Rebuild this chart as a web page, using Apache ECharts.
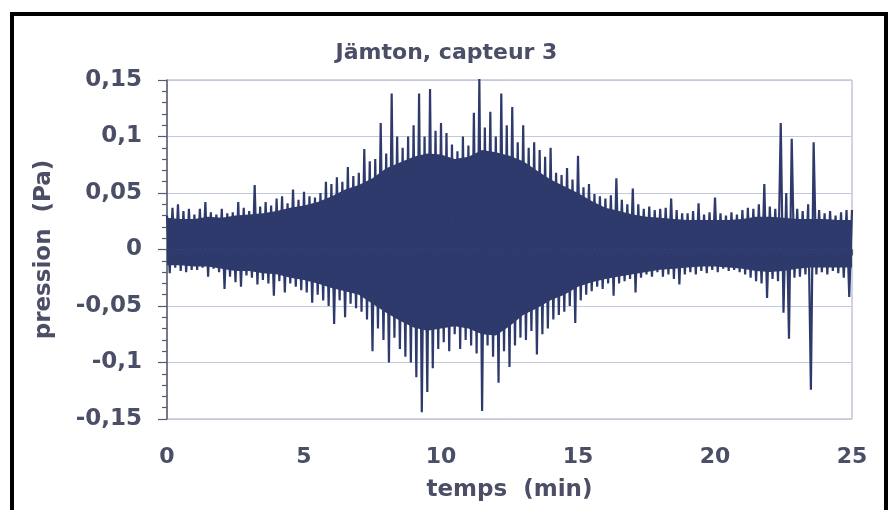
<!DOCTYPE html>
<html>
<head>
<meta charset="utf-8">
<script src="https://cdn.jsdelivr.net/npm/echarts@6/dist/echarts.min.js"></script>
<style>
html,body{margin:0;padding:0;background:#fff;}
#c{width:893px;height:510px;}
</style>
</head>
<body>
<div id="c"></div>
<script>
// Upper peaks (Pa), sampled every 0.2 min starting at t = 0
const upper = [
  .030, .037, .040, .034, .036,
  .031, .036, .042, .033, .031,
  .036, .032, .033, .042, .037,
  .034, .057, .038, .042, .039,
  .045, .047, .041, .053, .044,
  .051, .047, .046, .050, .060,
  .058, .064, .060, .073, .065,
  .068, .089, .078, .080, .112,
  .085, .138, .100, .090, .100,
  .110, .138, .100, .142, .105,
  .112, .103, .093, .087, .100,
  .092, .121, .151, .108, .122,
  .100, .138, .110, .126, .095,
  .110, .090, .095, .088, .082,
  .090, .068, .066, .072, .062,
  .083, .055, .058, .049, .047,
  .045, .048, .063, .044, .040,
  .054, .040, .036, .038, .035,
  .036, .037, .045, .035, .032,
  .032, .034, .041, .031, .033,
  .046, .032, .030, .033, .031,
  .035, .037, .036, .040, .058,
  .038, .036, .112, .050, .098,
  .036, .034, .040, .095, .035,
  .032, .034, .030, .033, .035,
  .035
];
// Lower peaks (Pa), sampled every 0.2 min starting at t = 0.1
const lower = [
  -.021, -.016, -.019, -.020, -.018,
  -.018, -.016, -.024, -.017, -.020,
  -.035, -.024, -.029, -.033, -.023,
  -.025, -.031, -.027, -.030, -.041,
  -.028, -.038, -.030, -.033, -.036,
  -.038, -.047, -.040, -.045, -.050,
  -.066, -.045, -.060, -.048, -.052,
  -.055, -.062, -.090, -.070, -.080,
  -.100, -.078, -.088, -.095, -.100,
  -.113, -.144, -.126, -.105, -.088,
  -.082, -.090, -.075, -.088, -.080,
  -.085, -.092, -.143, -.085, -.095,
  -.118, -.090, -.104, -.085, -.078,
  -.080, -.072, -.093, -.075, -.070,
  -.062, -.058, -.055, -.050, -.065,
  -.045, -.040, -.037, -.033, -.035,
  -.030, -.041, -.030, -.028, -.026,
  -.038, -.025, -.022, -.024, -.020,
  -.024, -.022, -.026, -.031, -.022,
  -.020, -.022, -.019, -.021, -.018,
  -.020, -.017, -.019, -.018, -.020,
  -.022, -.025, -.028, -.030, -.043,
  -.026, -.028, -.056, -.079, -.025,
  -.024, -.022, -.124, -.022, -.020,
  -.022, -.019, -.021, -.025, -.042
];
// Dense (solid) core of the trace, read every 0.5 min from t = 0 to 25
const coreHi = [
  .028, .027, .027, .029, .028, .030, .031, .032, .034, .037,
  .039, .042, .047, .053, .057, .063, .072, .077, .082, .085,
  .084, .080, .082, .088, .086, .083, .078, .070, .062, .056,
  .050, .043, .037, .034, .031, .029, .028, .027, .026, .026,
  .026, .026, .027, .029, .029, .028, .027, .027, .027, .026,
  .026
];
const coreLo = [
  -.014, -.014, -.015, -.015, -.017, -.019, -.019, -.021, -.022, -.025,
  -.027, -.030, -.034, -.037, -.040, -.048, -.056, -.063, -.069, -.072,
  -.070, -.068, -.070, -.075, -.076, -.068, -.058, -.052, -.045, -.040,
  -.033, -.029, -.026, -.024, -.022, -.020, -.018, -.017, -.016, -.015,
  -.015, -.016, -.017, -.019, -.020, -.019, -.017, -.016, -.016, -.016,
  -.016
];
const sampleStep = 0.2;
const coreStep = 0.5;
const xTicks = [0, 5, 10, 15, 20, 25];
const yTicks = [-0.15, -0.1, -0.05, 0, 0.05, 0.1, 0.15];

const data = [];
for (let i = 0; i < upper.length; i++) {
  data.push([+(i * sampleStep).toFixed(2), upper[i]]);
  if (i < lower.length) data.push([+(i * sampleStep + sampleStep / 2).toFixed(2), lower[i]]);
}
const hiData = coreHi.map((v, i) => [i * coreStep, v]);
const loData = coreLo.map((v, i) => [i * coreStep, v]);

const navy = '#2e3a6c';
const txt = '#4a4e66';
const font = 'DejaVu Sans';
const chart = echarts.init(document.getElementById('c'), null, {renderer: 'canvas'});
chart.setOption({
  animation: false,
  backgroundColor: '#ffffff',
  title: {
    text: 'Jämton, capteur 3',
    left: 'center', top: 37,
    textStyle: {fontFamily: font, fontWeight: 'bold', fontSize: 22, color: txt}
  },
  graphic: [{
    type: 'rect', z: 100, silent: true,
    shape: {x: 12, y: 14, width: 874, height: 530},
    style: {fill: 'none', stroke: '#000', lineWidth: 4}
  }],
  grid: {left: 167, right: 41, top: 80, bottom: 91, show: true, borderColor: '#a4aac2', borderWidth: 1, backgroundColor: 'transparent'},
  xAxis: {
    type: 'value', min: xTicks[0], max: xTicks[xTicks.length - 1], interval: 5,
    name: 'temps  (min)', nameLocation: 'middle', nameGap: 60,
    nameTextStyle: {fontFamily: font, fontWeight: 'bold', fontSize: 23, color: txt},
    axisLine: {show: true, lineStyle: {color: '#565b72', width: 1.5}},
    axisTick: {show: true, length: 6, lineStyle: {color: '#565b72', width: 1.2}},
    minorTick: {show: true, splitNumber: 5, length: 6, lineStyle: {color: '#565b72', width: 1.2}},
    axisLabel: {margin: 27, fontFamily: font, fontWeight: 'bold', fontSize: 22, color: txt},
    splitLine: {show: false}
  },
  yAxis: {
    type: 'value', min: yTicks[0], max: yTicks[yTicks.length - 1], interval: 0.05,
    name: 'pression  (Pa)', nameLocation: 'middle', nameGap: 111, nameRotate: 90,
    nameTextStyle: {fontFamily: font, fontWeight: 'bold', fontSize: 23, color: txt},
    axisLine: {show: true, lineStyle: {color: '#565b72', width: 1.5}},
    axisTick: {show: true, length: 9, lineStyle: {color: '#565b72', width: 1.2}},
    minorTick: {show: true, splitNumber: 5, length: 5, lineStyle: {color: '#565b72', width: 1.2}},
    axisLabel: {
      margin: 25, fontFamily: font, fontWeight: 'bold', fontSize: 23, color: txt,
      formatter: v => String(+(+v).toFixed(2)).replace('.', ',')
    },
    splitLine: {show: true, lineStyle: {color: '#c3c9de', width: 1}}
  },
  series: [
    {
      type: 'line', data: hiData, showSymbol: false, symbol: 'none', smooth: false,
      lineStyle: {width: 0}, areaStyle: {color: navy, opacity: 1, origin: 0}, z: 2
    },
    {
      type: 'line', data: loData, showSymbol: false, symbol: 'none', smooth: false,
      lineStyle: {width: 0}, areaStyle: {color: navy, opacity: 1, origin: 0}, z: 2
    },
    {
      type: 'line', data: data, showSymbol: false, symbol: 'none',
      sampling: null, smooth: false,
      lineStyle: {color: navy, width: 2.2, join: 'miter'},
      itemStyle: {color: navy}, z: 3
    }
  ]
});
</script>
</body>
</html>
